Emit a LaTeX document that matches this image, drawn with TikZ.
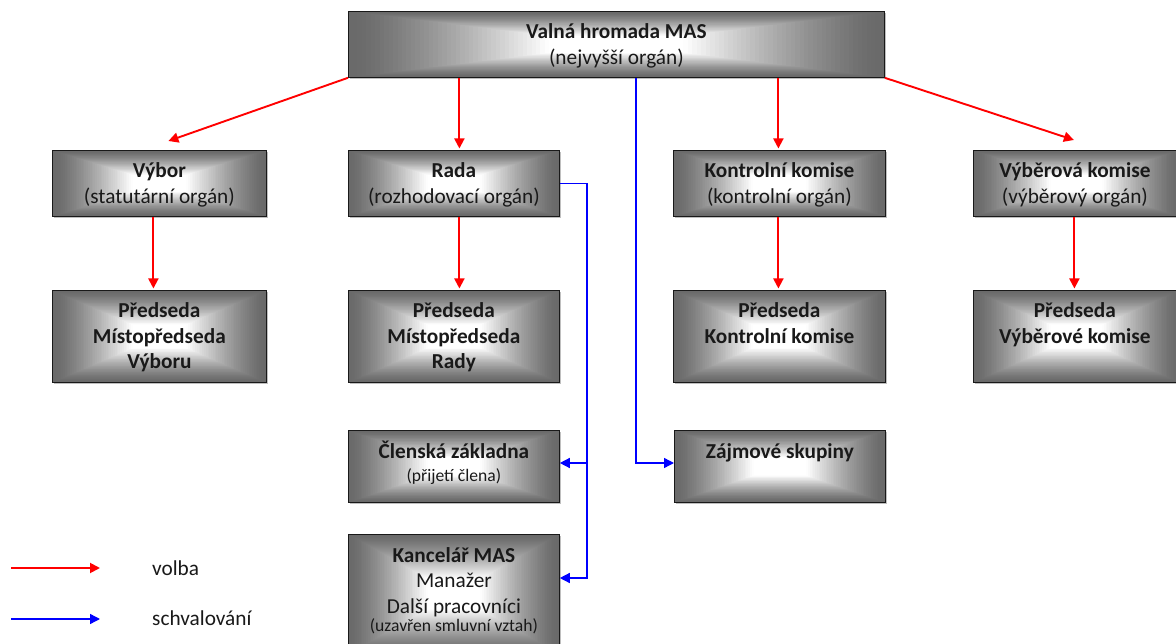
\documentclass[tikz,border=0pt]{standalone}
\usepackage{fontspec}
\setmainfont{Carlito}
\usetikzlibrary{arrows.meta,calc,shadows}
\definecolor{boxgray}{RGB}{106,106,106}
\newcommand\orgtext[1]{\begin{tabular}[t]{@{}c@{}}#1\end{tabular}}
\newcommand\orgsmall{\fontsize{17.6}{20}\selectfont}
\begin{document}
\begin{tikzpicture}[x=1pt,y=-1pt,
  orgbox/.style={rectangle, draw=black!90, line width=0.8pt, inner sep=0pt, anchor=north west,
    drop shadow={shadow xshift=1.2pt,shadow yshift=-1.2pt,opacity=0.25,fill=black},
    path picture={
      \foreach \i in {0,...,59}{
        \pgfmathsetmacro\fr{\i/120}
        \pgfmathsetmacro\pc{min(100,100*(max(0,\fr-0.01)/0.36)^1.3)}
        \fill[white!\pc!boxgray] ($(path picture bounding box.south west)!\fr!(path picture bounding box.north east)$) rectangle ($(path picture bounding box.north east)!\fr!(path picture bounding box.south west)$);
      }}},
  boxtext/.style={anchor=base, text=black!90, inner sep=0pt, font=\fontsize{21.3}{25.5}\selectfont},
  legtext/.style={anchor=base west, text=black!90, inner sep=0pt, font=\fontsize{21.3}{25.5}\selectfont},
  volba/.style={draw=red, line width=1.9pt, -{Triangle[length=10pt,width=10pt]}},
  schval/.style={draw=blue, line width=1.4pt, -{Triangle[length=10pt,width=10pt]}},
]
\useasboundingbox (0,0) rectangle (1176,644);

% boxes
\node[orgbox, minimum width=536, minimum height=66] (vh) at (348,11) {};
\node[orgbox, minimum width=214, minimum height=66] (vybor) at (52,150) {};
\node[orgbox, minimum width=211, minimum height=66] (rada) at (348,150) {};
\node[orgbox, minimum width=212, minimum height=66] (kk) at (673,150) {};
\node[orgbox, minimum width=206, minimum height=66] (vk) at (973,150) {};
\node[orgbox, minimum width=214, minimum height=92] (pvybor) at (52,290) {};
\node[orgbox, minimum width=211, minimum height=92] (prada) at (348,290) {};
\node[orgbox, minimum width=212, minimum height=92] (pkk) at (673,290) {};
\node[orgbox, minimum width=206, minimum height=92] (pvk) at (973,290) {};
\node[orgbox, minimum width=211, minimum height=72] (clen) at (348,430) {};
\node[orgbox, minimum width=211, minimum height=72] (zaj) at (674,430) {};
\node[orgbox, minimum width=211, minimum height=120] (kanc) at (348,534) {};

% texts
\node[boxtext] (tvh) at ($(vh.north)+(0,28)$) {\orgtext{\textbf{Valná hromada MAS}\\(nejvyšší orgán)}};
\node[boxtext] (tvybor) at ($(vybor.north)+(0,28)$) {\orgtext{\textbf{Výbor}\\(statutární orgán)}};
\node[boxtext] (trada) at ($(rada.north)+(0,28)$) {\orgtext{\textbf{Rada}\\(rozhodovací orgán)}};
\node[boxtext] (tkk) at ($(kk.north)+(0,28)$) {\orgtext{\textbf{Kontrolní komise}\\(kontrolní orgán)}};
\node[boxtext] (tvk) at ($(vk.north)+(-1.5,28)$) {\orgtext{\textbf{Výběrová komise}\\(výběrový orgán)}};
\node[boxtext, font=\bfseries\fontsize{21.3}{25.5}\selectfont] (tpvybor) at ($(pvybor.north)+(0,28)$) {\orgtext{Předseda\\Místopředseda\\Výboru}};
\node[boxtext, font=\bfseries\fontsize{21.3}{25.5}\selectfont] (tprada) at ($(prada.north)+(0,28)$) {\orgtext{Předseda\\Místopředseda\\Rady}};
\node[boxtext, font=\bfseries\fontsize{21.3}{25.5}\selectfont] (tpkk) at ($(pkk.north)+(0,28)$) {\orgtext{Předseda\\Kontrolní komise}};
\node[boxtext, font=\bfseries\fontsize{21.3}{25.5}\selectfont] (tpvk) at ($(pvk.north)+(-1.5,28)$) {\orgtext{Předseda\\Výběrové komise}};
\node[boxtext] (tclen) at ($(clen.north)+(0,28)$) {\orgtext{\textbf{Členská základna}\\[-2.5pt]{\orgsmall (přijetí člena)}}};
\node[boxtext] (tzaj) at ($(zaj.north)+(0,28)$) {\orgtext{\textbf{Zájmové skupiny}}};
\node[boxtext] (tkanc) at ($(kanc.north)+(0,28)$) {\orgtext{\textbf{Kancelář MAS}\\Manažer\\Další pracovníci\\[-7pt]{\orgsmall (uzavřen smluvní vztah)}}};

% red arrows (volba)
\draw[volba] (vh.south west) -- ($(vybor.north)+(9,-9)$);
\coordinate (r1) at ($(rada.north)+(5.5,-1.5)$);
\draw[volba] (r1 |- vh.south) -- (r1);
\coordinate (k1) at ($(kk.north)+(-1,-1.5)$);
\draw[volba] (k1 |- vh.south) -- (k1);
\draw[volba] (vh.south east) -- ($(vk.north)+(-2.5,-10)$);

\coordinate (r2) at ($(pvybor.north)+(-6,-1.5)$);
\draw[volba] (r2 |- vybor.south) -- (r2);
\coordinate (r3) at ($(prada.north)+(5.5,-1.5)$);
\draw[volba] (r3 |- rada.south) -- (r3);
\coordinate (r4) at ($(pkk.north)+(-1,-1.5)$);
\draw[volba] (r4 |- kk.south) -- (r4);
\coordinate (r5) at ($(pvk.north)+(-2,-1.5)$);
\draw[volba] (r5 |- vk.south) -- (r5);

% blue arrows (schvalovani)
\coordinate (b1) at ($(vh.south west)+(288,0)$);
\coordinate (b2) at ($(zaj.north west)+(0,33)$);
\draw[schval] (b1) |- (b2);
\coordinate (bus) at ($(rada.east)+(27,0)$);
\coordinate (c1) at ($(clen.north east)+(0,33)$);
\coordinate (c2) at ($(kanc.north east)+(0,44)$);
\draw[schval] (rada.east) -- (bus) |- (c2);
\draw[schval] (bus |- c1) -- (c1);

% legend
\coordinate (l1s) at (11,568);
\coordinate (l1e) at (100,568);
\coordinate (l2s) at (11,619);
\coordinate (l2e) at (100,619);
\draw[volba] (l1s) -- (l1e);
\draw[schval] (l2s) -- (l2e);
\node[legtext] (lv) at (152,575) {volba};
\node[legtext] (ls) at (152,625) {schvalování};
\end{tikzpicture}
\end{document}
